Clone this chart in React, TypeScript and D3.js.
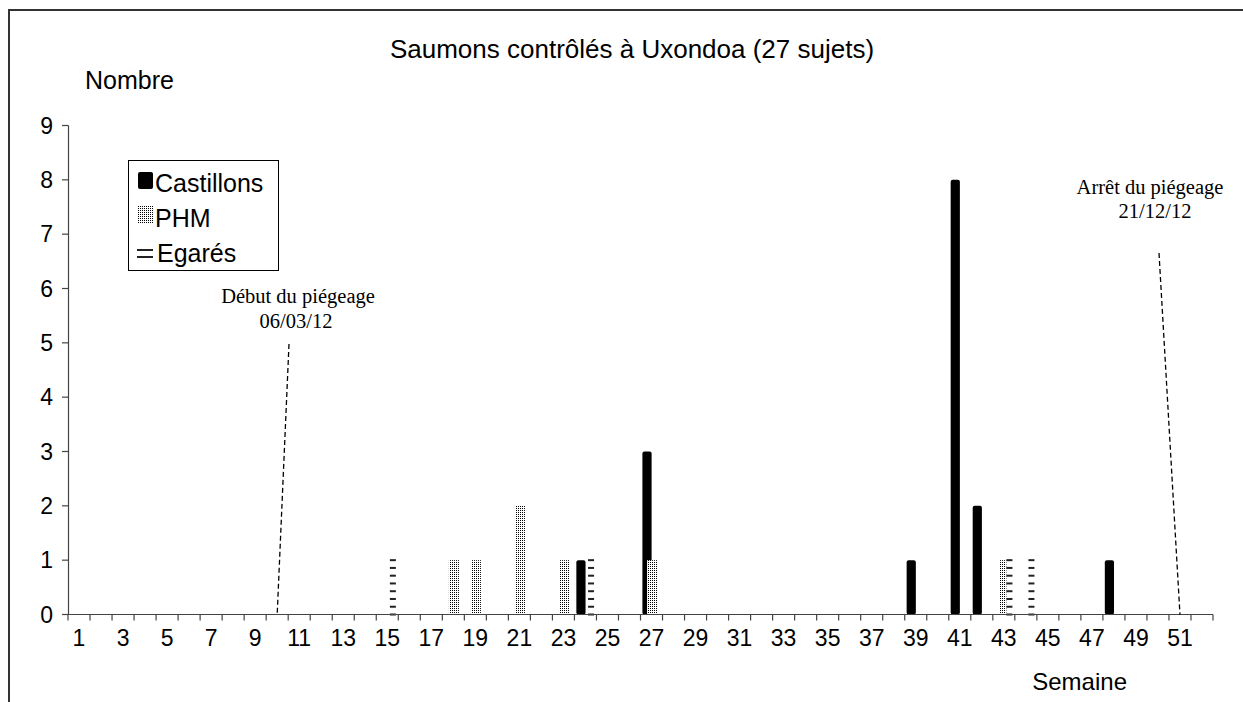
import React from "react";
import * as d3 from "d3";

const weeks: number[] = d3.range(1, 53);
const tickLabelWeeks: number[] = d3.range(1, 53, 2);
const yTicks: number[] = d3.range(0, 10);

const seriesNames = ["Castillons", "PHM", "Egarés"];

const castillonsWeeks = [24, 27, 39, 41, 42, 48];
const castillonsValues = [1, 3, 1, 8, 2, 1];

const phmWeeks = [18, 19, 21, 23, 27, 43];
const phmValues = [1, 1, 2, 1, 1, 1];

const egaresWeeks = [15, 24, 43, 44];
const egaresValues = [1, 1, 1, 1];

const title = "Saumons contrôlés à Uxondoa (27 sujets)";
const yTitle = "Nombre";
const xTitle = "Semaine";
const startNote = ["Début du piégeage", "06/03/12"];
const endNote = ["Arrêt du piégeage", "21/12/12"];
const startWeek = 10;
const endWeek = 51;

const W = 1243;
const H = 702;
const sans = "'Liberation Sans', Arial, sans-serif";
const serif = "'Liberation Serif', 'Times New Roman', serif";

export default function App() {
  const x = d3.scaleBand<number>().domain(weeks).range([68, 1213]).padding(0);
  const y = d3.scaleLinear().domain([0, 9]).range([614.5, 125.5]);
  const sub = d3.scalePoint<string>().domain(seriesNames).range([-4.5, 5.6]);
  const bw = x.bandwidth();
  const cx = (w: number) => (x(w) as number) + bw / 2;

  const castillons = castillonsWeeks.map((w, i) => ({ w, v: castillonsValues[i] }));
  const phm = phmWeeks.map((w, i) => ({ w, v: phmValues[i] }));
  const egares = egaresWeeks.map((w, i) => ({ w, v: egaresValues[i] }));

  const dashPeriod = (y(0) - y(1)) / 7;

  const tickXs = d3.range(0, weeks.length + 1).map((i) => 68 + i * bw);

  return (
    <svg
      width={W}
      height={H}
      style={{ position: "absolute", left: 0, top: 0, background: "#fff" }}
    >
      <defs>
        <pattern id="stipple" width="2" height="2" patternUnits="userSpaceOnUse">
          <rect width="2" height="2" fill="#fff" />
          <rect x="0" y="0" width="1" height="1" fill="#000" />
        </pattern>
      </defs>
      <rect x={9} y={10} width={1400} height={900} fill="none" stroke="#333" strokeWidth={2} />

      <text x={632} y={58} textAnchor="middle" fontFamily={sans} fontSize={26}>
        {title}
      </text>
      <text x={85} y={89} fontFamily={sans} fontSize={25}>
        {yTitle}
      </text>
      <text x={1127} y={690} textAnchor="end" fontFamily={sans} fontSize={24}>
        {xTitle}
      </text>

      {/* y axis */}
      <line x1={68.5} x2={68.5} y1={y(9)} y2={y(0)} stroke="#444" strokeWidth={1.2} />
      {yTicks.map((t) => (
        <g key={t}>
          <line x1={62} x2={68.5} y1={y(t)} y2={y(t)} stroke="#444" strokeWidth={1.2} />
          <text x={53} y={y(t) + 8} textAnchor="end" fontFamily={sans} fontSize={23}>
            {t}
          </text>
        </g>
      ))}

      {/* bars */}
      {castillons.map((d) => (
        <rect
          key={"c" + d.w}
          x={cx(d.w) + (sub("Castillons") as number) - 4.6}
          y={y(d.v)}
          width={9.2}
          height={y(0) - y(d.v)}
          rx={2}
          fill="#000"
        />
      ))}
      {phm.map((d) => (
        <rect
          key={"p" + d.w}
          x={cx(d.w) + (sub("PHM") as number) - 5}
          y={y(d.v)}
          width={10}
          height={y(0) - y(d.v)}
          fill="url(#stipple)"
        />
      ))}
      {egares.map((d) => (
        <g key={"e" + d.w}>
          <rect
            x={cx(d.w) + (sub("Egarés") as number) - 3}
            y={y(d.v)}
            width={6}
            height={y(0) - y(d.v)}
            fill="#fff"
          />
          {d3.range(0, Math.round((y(0) - y(d.v)) / dashPeriod) + 1).map((k) => (
            <rect
              key={k}
              x={cx(d.w) + (sub("Egarés") as number) - 3}
              y={y(0) - k * dashPeriod - 1}
              width={6}
              height={2}
              fill="#222"
            />
          ))}
        </g>
      ))}

      {/* x axis */}
      <line x1={68} x2={1213} y1={y(0)} y2={y(0)} stroke="#444" strokeWidth={1.2} />
      {tickXs.map((tx, i) => (
        <line key={i} x1={tx} x2={tx} y1={y(0)} y2={y(0) + 6} stroke="#444" strokeWidth={1.2} />
      ))}
      {tickLabelWeeks.map((w) => (
        <text key={w} x={cx(w)} y={646} textAnchor="middle" fontFamily={sans} fontSize={23}>
          {w}
        </text>
      ))}

      {/* legend */}
      <rect x={128.5} y={160.5} width={150} height={110} fill="#fff" stroke="#000" strokeWidth={1} />
      <rect x={138} y={172} width={15} height={17} rx={2} fill="#000" />
      <text x={155} y={192} fontFamily={sans} fontSize={25}>
        {seriesNames[0]}
      </text>
      <rect x={138} y={206} width={15} height={17} fill="url(#stipple)" />
      <text x={155} y={227} fontFamily={sans} fontSize={25}>
        {seriesNames[1]}
      </text>
      <rect x={137} y={249} width={16} height={2} fill="#222" />
      <rect x={137} y={256} width={16} height={2} fill="#222" />
      <text x={157} y={262} fontFamily={sans} fontSize={25}>
        {seriesNames[2]}
      </text>

      {/* annotations */}
      <text x={298} y={303} textAnchor="middle" fontFamily={serif} fontSize={20.5}>
        {startNote[0]}
      </text>
      <text x={296} y={328} textAnchor="middle" fontFamily={serif} fontSize={20.5}>
        {startNote[1]}
      </text>
      <line
        x1={289}
        y1={344}
        x2={cx(startWeek)}
        y2={y(0)}
        stroke="#000"
        strokeWidth={1.3}
        strokeDasharray="5,3"
      />
      <text x={1150} y={194} textAnchor="middle" fontFamily={serif} fontSize={20.5}>
        {endNote[0]}
      </text>
      <text x={1155} y={218} textAnchor="middle" fontFamily={serif} fontSize={20.5}>
        {endNote[1]}
      </text>
      <line
        x1={1159}
        y1={253}
        x2={cx(endWeek)}
        y2={y(0)}
        stroke="#000"
        strokeWidth={1.3}
        strokeDasharray="5,3"
      />
    </svg>
  );
}
